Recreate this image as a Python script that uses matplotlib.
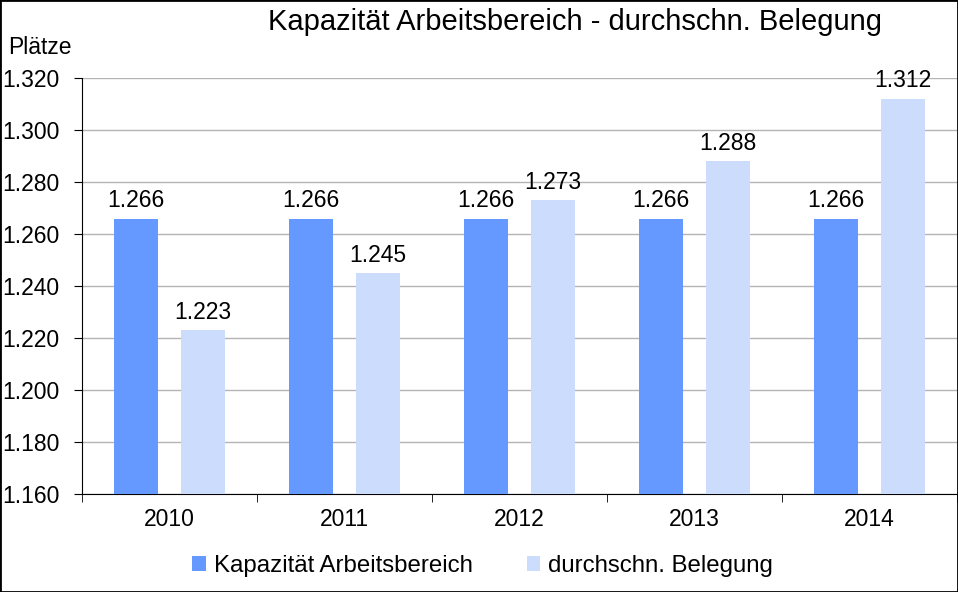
import numpy as np
import matplotlib.pyplot as plt
from matplotlib.patches import Rectangle

plt.rcParams['font.family'] = ['Liberation Sans', 'DejaVu Sans']

# Data
years = ['2010', '2011', '2012', '2013', '2014']
kapazitaet = [1266, 1266, 1266, 1266, 1266]
belegung = [1223, 1245, 1273, 1288, 1312]
y_ticks = [1160, 1180, 1200, 1220, 1240, 1260, 1280, 1300, 1320]

col_kap = '#6699ff'
col_bel = '#ccdcfc'
fs = 16.5


def de_fmt(v):
    # German thousands separator
    return f'{v:,.0f}'.replace(',', '.')


fig = plt.figure(figsize=(9.58, 5.92), dpi=100)
ax = fig.add_axes([0.0856, 0.1655, 0.9134, 0.7025])

x = np.arange(len(years))
w = 0.25
off = 0.19
b1 = ax.bar(x - off, kapazitaet, w, color=col_kap, label='Kapazität Arbeitsbereich', zorder=3)
b2 = ax.bar(x + off, belegung, w, color=col_bel, label='durchschn. Belegung', zorder=3)

for bars in (b1, b2):
    for r in bars:
        ax.text(r.get_x() + r.get_width() / 2, r.get_height() + 2.5, de_fmt(r.get_height()),
                ha='center', va='bottom', fontsize=fs)

ax.set_ylim(1160, 1320)
ax.set_xlim(-0.5, len(years) - 0.5)
ax.set_yticks(y_ticks)
ax.set_yticklabels([de_fmt(v) for v in y_ticks], fontsize=fs)
ax.set_xticks(x)
ax.set_xticklabels(years, fontsize=fs)
ax.tick_params(axis='x', length=0, pad=10)
ax.set_xticks(np.arange(-0.5, len(years)), minor=True)
ax.tick_params(axis='x', which='minor', length=6, color='black')
ax.tick_params(axis='y', length=6, pad=10, color='black')
ax.grid(axis='y', color='#b4b4b4', linewidth=1, zorder=0)

for s in ['top', 'right']:
    ax.spines[s].set_visible(False)
ax.spines['left'].set_color('black')
ax.spines['bottom'].set_color('black')

fig.text(0.6, 0.963, 'Kapazität Arbeitsbereich - durchschn. Belegung',
         ha='center', va='center', fontsize=21)
fig.text(0.009, 0.92, 'Plätze', ha='left', va='center', fontsize=fs)

fig.legend(loc='center', bbox_to_anchor=(0.504, 0.044), ncol=2, frameon=False,
           fontsize=17.3, handlelength=0.55, handleheight=0.55, columnspacing=2.25,
           handletextpad=0.35)

fig.patches.append(Rectangle((0, 0), 1, 1, transform=fig.transFigure, fill=False,
                             edgecolor='black', linewidth=2, zorder=10))

fig.savefig('out.png', dpi=100)
